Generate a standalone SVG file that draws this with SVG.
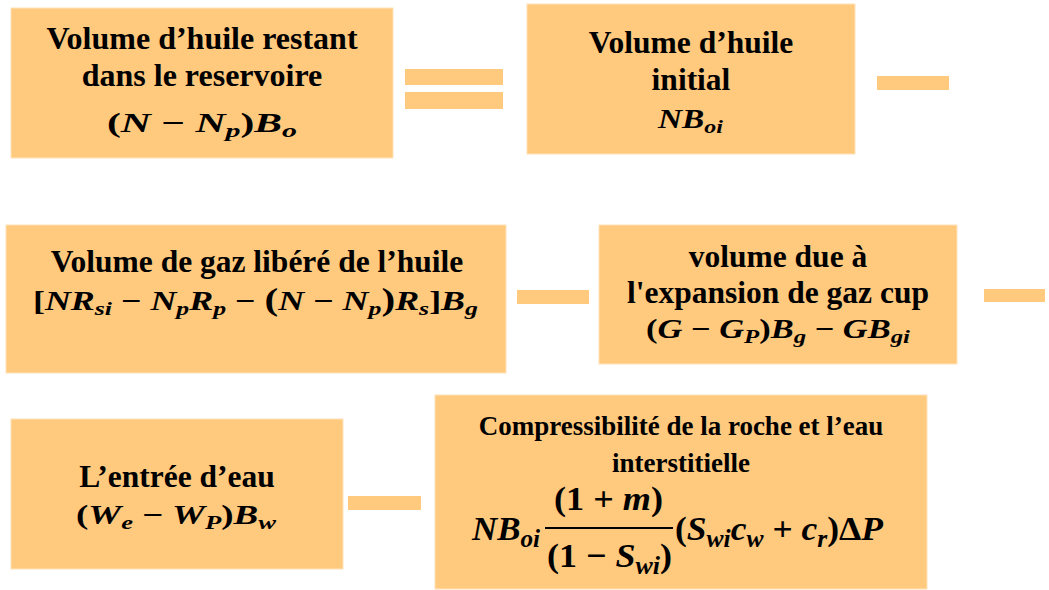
<svg xmlns="http://www.w3.org/2000/svg" width="1049" height="590" viewBox="0 0 1049 590">
<style>
.box{fill:#FFC97E;stroke:#FFE2B8;stroke-width:1}
.bar{fill:#FFC97E}
.t{font-family:"Liberation Serif","Times New Roman",serif;font-weight:bold;fill:#000;text-anchor:middle}
.m{font-family:"Liberation Serif","Times New Roman",serif;font-weight:bold;font-style:italic;fill:#000}
.m .u{font-style:normal}
.m .s{font-size:72%}
</style>
<rect width="1049" height="590" fill="#fff"/>
<g id="operators">
<rect class="bar" x="405" y="69" width="98" height="16"/>
<rect class="bar" x="405" y="92" width="98" height="17"/>
<rect class="bar" x="877" y="76" width="72" height="14"/>
<rect class="bar" x="517" y="290" width="72" height="14"/>
<rect class="bar" x="984" y="289" width="61" height="13"/>
<rect class="bar" x="348" y="496" width="73" height="14"/>
</g>
<g id="node-huile-restant">
<rect class="box" x="11" y="8" width="382" height="150"/>
<text class="t" x="202" y="49" font-size="32">Volume d’huile restant</text>
<text class="t" x="202" y="86" font-size="32">dans le reservoire</text>
<text class="m" x="107" y="132" font-size="27" textLength="190" lengthAdjust="spacingAndGlyphs"><tspan class="u">(</tspan>N <tspan class="u">−</tspan> N<tspan class="s" dy="5">p</tspan><tspan class="u" dy="-5">)</tspan>B<tspan class="s" dy="5">o</tspan></text>
</g>
<g id="node-huile-initial">
<rect class="box" x="527" y="4" width="328" height="150"/>
<text class="t" x="691" y="53" font-size="31.5">Volume d’huile</text>
<text class="t" x="691" y="90" font-size="31.5">initial</text>
<text class="m" x="658" y="128" font-size="27" textLength="65" lengthAdjust="spacingAndGlyphs">NB<tspan class="s" dy="5">oi</tspan></text>
</g>
<g id="node-gaz-libere">
<rect class="box" x="6" y="225" width="500" height="148"/>
<text class="t" x="257" y="272" font-size="31.5">Volume de gaz libéré de l’huile</text>
<text class="m" x="33" y="310" font-size="27" textLength="445" lengthAdjust="spacingAndGlyphs"><tspan class="u">[</tspan>NR<tspan class="s" dy="5">si</tspan><tspan dy="-5"> </tspan><tspan class="u">−</tspan> N<tspan class="s" dy="5">p</tspan><tspan dy="-5">R</tspan><tspan class="s" dy="5">p</tspan><tspan dy="-5"> </tspan><tspan class="u">−</tspan> <tspan class="u" font-size="31">(</tspan>N <tspan class="u">−</tspan> N<tspan class="s" dy="5">p</tspan><tspan class="u" dy="-5" font-size="31">)</tspan>R<tspan class="s" dy="5">s</tspan><tspan class="u" dy="-5">]</tspan>B<tspan class="s" dy="5">g</tspan></text>
</g>
<g id="node-gas-cap">
<rect class="box" x="599" y="225" width="358" height="139"/>
<text class="t" x="778" y="267" font-size="31.5">volume due à</text>
<text class="t" x="778" y="303" font-size="31.5">l'expansion de gaz cup</text>
<text class="m" x="646" y="338" font-size="27" textLength="264" lengthAdjust="spacingAndGlyphs"><tspan class="u">(</tspan>G <tspan class="u">−</tspan> G<tspan class="s" dy="5">P</tspan><tspan class="u" dy="-5">)</tspan>B<tspan class="s" dy="5">g</tspan><tspan dy="-5"> </tspan><tspan class="u">−</tspan> GB<tspan class="s" dy="5">gi</tspan></text>
</g>
<g id="node-entree-eau">
<rect class="box" x="11" y="419" width="332" height="150"/>
<text class="t" x="177" y="487" font-size="31.5">L’entrée d’eau</text>
<text class="m" x="76" y="524" font-size="27" textLength="200" lengthAdjust="spacingAndGlyphs"><tspan class="u">(</tspan>W<tspan class="s" dy="5">e</tspan><tspan dy="-5"> </tspan><tspan class="u">−</tspan> W<tspan class="s" dy="5">P</tspan><tspan class="u" dy="-5">)</tspan>B<tspan class="s" dy="5">w</tspan></text>
</g>
<g id="node-compressibilite">
<rect class="box" x="435" y="395" width="492" height="194"/>
<text class="t" x="681" y="435" font-size="27">Compressibilité de la roche et l’eau</text>
<text class="t" x="681" y="472" font-size="27">interstitielle</text>
<text class="m" x="472" y="540" font-size="34" textLength="68" lengthAdjust="spacingAndGlyphs">NB<tspan class="s" dy="7">oi</tspan></text>
<line x1="545" y1="528" x2="673" y2="528" stroke="#000" stroke-width="2"/>
<text class="m" x="554" y="510" font-size="34" textLength="109" lengthAdjust="spacingAndGlyphs"><tspan class="u">(1 + </tspan>m<tspan class="u">)</tspan></text>
<text class="m" x="547" y="567" font-size="34" textLength="125" lengthAdjust="spacingAndGlyphs"><tspan class="u">(1 − </tspan>S<tspan class="s" dy="7">wi</tspan><tspan class="u" dy="-7">)</tspan></text>
<text class="m" x="675" y="540" font-size="34" textLength="208" lengthAdjust="spacingAndGlyphs"><tspan class="u">(</tspan>S<tspan class="s" dy="7">wi</tspan><tspan dy="-7">c</tspan><tspan class="s" dy="7">w</tspan><tspan dy="-7"> </tspan><tspan class="u">+</tspan> c<tspan class="s" dy="7">r</tspan><tspan class="u" dy="-7">)Δ</tspan>P</text>
</g>
</svg>
